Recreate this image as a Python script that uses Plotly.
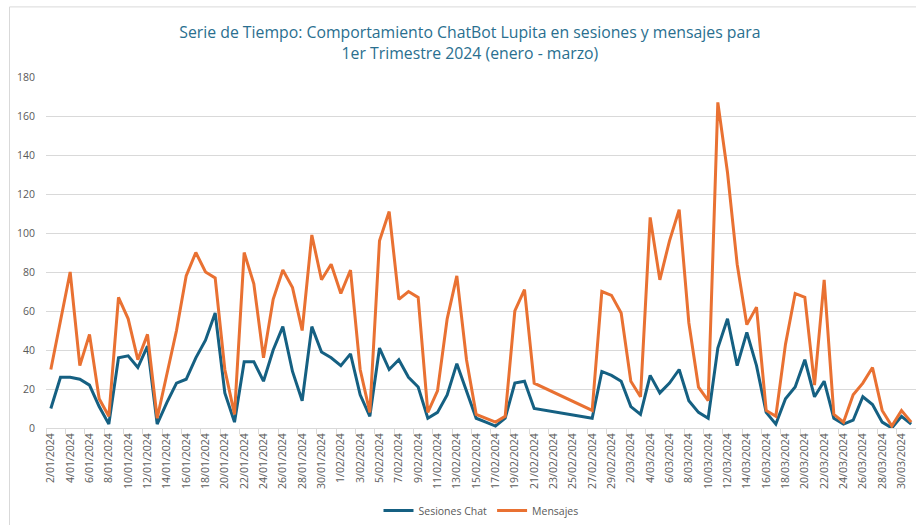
import pandas as pd
import plotly.graph_objects as go

# Dates: 2/01/2024 to 31/03/2024, with 22/02 - 26/02 absent from the data
all_days = pd.date_range("2024-01-02", "2024-03-31", freq="D")
missing = pd.date_range("2024-02-22", "2024-02-26", freq="D")
fechas = [d.strftime("%Y-%m-%d") for d in all_days if d not in missing]

sesiones_chat = [10, 26, 26, 25, 22, 11, 2, 36, 37, 31, 42, 2, 13, 23, 25, 36, 45, 59, 18, 3,
                 34, 34, 24, 40, 52, 29, 14, 52, 39, 36, 32, 38, 17, 6, 41, 30, 35, 26, 21, 5,
                 8, 17, 33, 19, 5, 3, 1, 5, 23, 24, 10,
                 5, 29, 27, 24, 11, 7, 27, 18, 23, 30, 14, 8, 5, 41, 56, 32, 49, 32, 8, 2,
                 15, 21, 35, 16, 24, 5, 2, 4, 16, 12, 3, 0, 6, 2]

mensajes = [30, 55, 80, 32, 48, 15, 6, 67, 56, 35, 48, 5, 27, 50, 78, 90, 80, 77, 30, 7,
            90, 74, 36, 66, 81, 72, 50, 99, 76, 84, 69, 81, 30, 8, 96, 111, 66, 70, 67, 8,
            19, 56, 78, 35, 7, 5, 3, 6, 60, 71, 23,
            9, 70, 68, 59, 24, 16, 108, 76, 96, 112, 54, 21, 14, 167, 131, 84, 53, 62, 9, 6,
            43, 69, 67, 22, 76, 7, 3, 17, 23, 31, 9, 1, 9, 3]

titulo = ("Serie de Tiempo: Comportamiento ChatBot Lupita en sesiones y mensajes para"
          "<br>1er Trimestre 2024 (enero - marzo)")

FONT = "Open Sans"
GREY = "#595959"
GRID = "#d9d9d9"

fig = go.Figure()
fig.add_trace(go.Scatter(x=fechas, y=sesiones_chat, mode="lines", name="Sesiones Chat",
                         line=dict(color="#156082", width=3)))
fig.add_trace(go.Scatter(x=fechas, y=mensajes, mode="lines", name="Mensajes",
                         line=dict(color="#E97132", width=3)))

fig.update_layout(
    width=916, height=525,
    margin=dict(l=46, r=0, t=77, b=97),
    paper_bgcolor="white", plot_bgcolor="white",
    font=dict(family=FONT, color=GREY, size=10),
    title=dict(text=titulo, x=0.513, xanchor="center", xref="container",
               y=0.927, yanchor="middle", yref="container",
               font=dict(family=FONT, size=15.8, color="#2A6F8F")),
    showlegend=True,
    legend=dict(orientation="h", x=0.5, xanchor="center", y=-0.235, yanchor="middle",
                font=dict(size=10.5, color=GREY), itemwidth=30, tracegroupgap=0),
    xaxis=dict(
        type="date",
        range=["2024-01-01 12:00", "2024-03-31 12:00"],
        tick0="2024-01-02", dtick=2 * 86400000,
        tickformat="%-d/%m/%Y", tickangle=-90,
        ticks="", showgrid=False, zeroline=False,
        showline=True, linecolor=GRID, linewidth=1,
        tickfont=dict(size=10.5, color=GREY),
        minor=dict(ticks="outside", ticklen=5, tickcolor=GRID,
                   tick0="2024-01-01 12:00", dtick=2 * 86400000, showgrid=False),
    ),
    yaxis=dict(
        range=[0, 180], dtick=20, showgrid=True, gridcolor=GRID, gridwidth=1,
        zeroline=False, showline=False, ticks="", ticklabelstandoff=10,
        tickfont=dict(size=10.5, color=GREY),
    ),
)

# chart-area border
fig.add_shape(type="rect", xref="paper", yref="paper",
              x0=(9.5 - 46) / 870, x1=1.02, y0=-0.4, y1=(428.3 - 6.5) / 351.6,
              line=dict(color=GRID, width=1), fillcolor="rgba(0,0,0,0)", layer="below")

fig.write_html("out.html", config={"displayModeBar": False},
               post_script="document.body.style.margin='0';document.body.style.overflow='hidden';")
